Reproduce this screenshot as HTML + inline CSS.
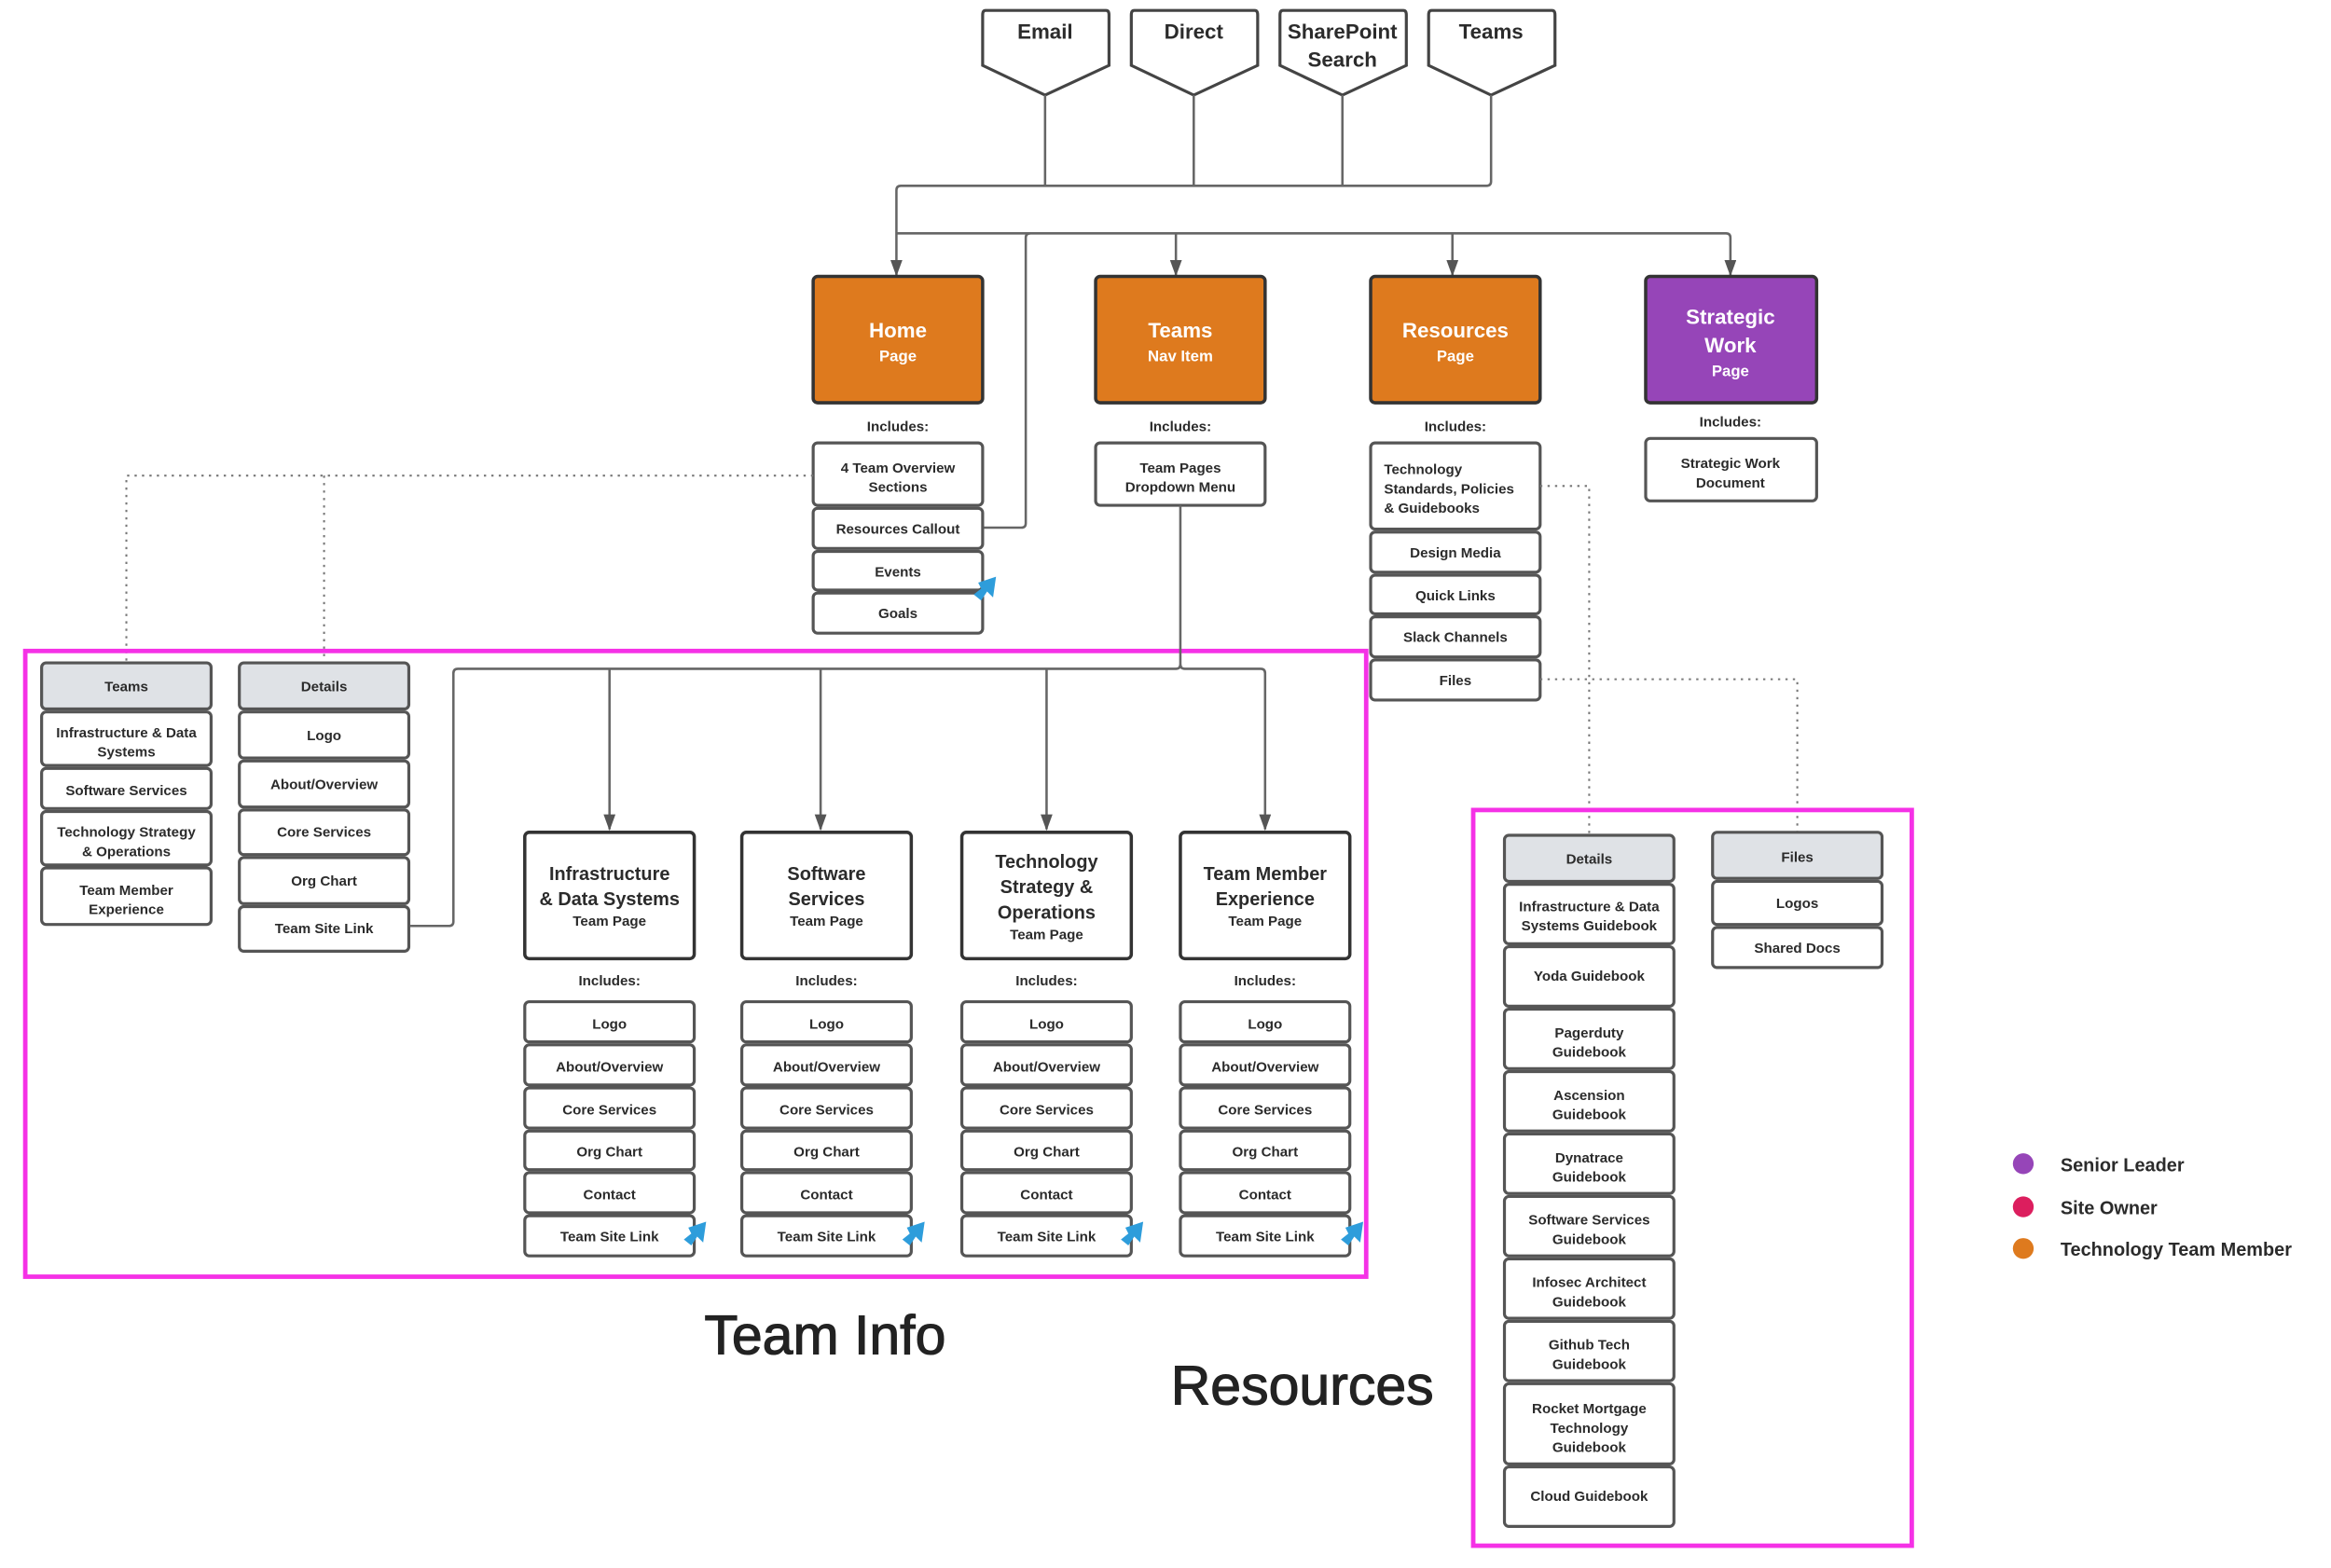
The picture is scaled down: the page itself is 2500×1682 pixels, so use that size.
<!DOCTYPE html>
<html><head><meta charset="utf-8"><style>
html,body{margin:0;padding:0;background:#fff}
svg{display:block}
text{font-family:"Liberation Sans",sans-serif;font-weight:bold;fill:#2b2b2b;text-anchor:middle}
.b{fill:#fff;stroke:#555;stroke-width:2}
.h{fill:#dfe2e6;stroke:#555;stroke-width:2}
.s{font-size:9.5px}
.l{fill:none;stroke:#666;stroke-width:1.6}
.d{fill:none;stroke:#777;stroke-width:1.3;stroke-dasharray:1.5 3.5}
.big{font-weight:normal;stroke:#222;stroke-width:0.7;fill:#222}
</style></head><body>
<svg width="2500" height="1682" viewBox="0 0 1568 1055" preserveAspectRatio="none" xmlns="http://www.w3.org/2000/svg">
<defs><marker id="a" markerWidth="11" markerHeight="9" refX="10" refY="4" orient="auto" markerUnits="userSpaceOnUse"><path d="M0,0 L11,4 L0,8 Z" fill="#555"/></marker>
<g id="bl"><path d="M0,0 L12,-4 L10,10 L6,6 L2,12 L-3,8 L2,4 Z" fill="#2e9ddb"/></g></defs>

<g fill="#fff" stroke="#444" stroke-width="2">
<path d="M663,7 H744 Q746,7 746,10 V44 L703,64 L661,44 V10 Q661,7 663,7Z"/>
<path d="M763,7 H844 Q846,7 846,10 V44 L803,64 L761,44 V10 Q761,7 763,7Z"/>
<path d="M863,7 H944 Q946,7 946,10 V44 L903,64 L861,44 V10 Q861,7 863,7Z"/>
<path d="M963,7 H1044 Q1046,7 1046,10 V44 L1003,64 L961,44 V10 Q961,7 963,7Z"/>
</g>
<text x="703" y="26" font-size="14">Email</text>
<text x="803" y="26" font-size="14">Direct</text>
<text x="903" y="26" font-size="14">SharePoint</text>
<text x="903" y="45" font-size="14">Search</text>
<text x="1003" y="26" font-size="14">Teams</text>

<path class="l" d="M703,64 V125 M803,64 V125 M903,64 V125 M1003,64 V122 Q1003,125 1000,125 H606 Q603,125 603,128 V185" marker-end="url(#a)"/>
<path class="l" d="M603,157 H1161 Q1164,157 1164,160 V185" marker-end="url(#a)"/>
<path class="l" d="M791,157 V185" marker-end="url(#a)"/>
<path class="l" d="M977,157 V185" marker-end="url(#a)"/>
<path class="l" d="M693,157 Q690,157 690,160 V352 Q690,355 687,355 H661"/>

<g stroke="#333" stroke-width="2.2">
<rect x="547" y="186" width="114" height="85" rx="3" fill="#de7a1e"/>
<rect x="737" y="186" width="114" height="85" rx="3" fill="#de7a1e"/>
<rect x="922" y="186" width="114" height="85" rx="3" fill="#de7a1e"/>
<rect x="1107" y="186" width="115" height="85" rx="3" fill="#9645b8"/>
</g>
<text x="604" y="227" font-size="14" style="fill:#fff">Home</text>
<text x="604" y="243" font-size="10.5" style="fill:#fff">Page</text>
<text x="794" y="227" font-size="14" style="fill:#fff">Teams</text>
<text x="794" y="243" font-size="10.5" style="fill:#fff">Nav Item</text>
<text x="979" y="227" font-size="14" style="fill:#fff">Resources</text>
<text x="979" y="243" font-size="10.5" style="fill:#fff">Page</text>
<text x="1164" y="218" font-size="14" style="fill:#fff">Strategic</text>
<text x="1164" y="237" font-size="14" style="fill:#fff">Work</text>
<text x="1164" y="253" font-size="10.5" style="fill:#fff">Page</text>
<text x="604" y="290" class="s">Includes:</text>
<text x="794" y="290" class="s">Includes:</text>
<text x="979" y="290" class="s">Includes:</text>
<text x="1164" y="287" class="s">Includes:</text>

<rect class="b" x="547" y="298" width="114" height="42" rx="3"/>
<rect class="b" x="547" y="342" width="114" height="27" rx="3"/>
<rect class="b" x="547" y="371" width="114" height="26" rx="3"/>
<rect class="b" x="547" y="399" width="114" height="27" rx="3"/>
<text class="s" x="604" y="318">4 Team Overview</text>
<text class="s" x="604" y="331">Sections</text>
<text class="s" x="604" y="359">Resources Callout</text>
<text class="s" x="604" y="388">Events</text>
<text class="s" x="604" y="416">Goals</text>
<use href="#bl" x="658" y="392"/>

<rect class="b" x="737" y="298" width="114" height="42" rx="3"/>
<text class="s" x="794" y="318">Team Pages</text>
<text class="s" x="794" y="331">Dropdown Menu</text>

<rect class="b" x="922" y="298" width="114" height="58" rx="3"/>
<rect class="b" x="922" y="358" width="114" height="27" rx="3"/>
<rect class="b" x="922" y="387" width="114" height="26" rx="3"/>
<rect class="b" x="922" y="415" width="114" height="27" rx="3"/>
<rect class="b" x="922" y="444" width="114" height="27" rx="3"/>
<text class="s" x="931" y="319" style="text-anchor:start">Technology</text>
<text class="s" x="931" y="332" style="text-anchor:start">Standards, Policies</text>
<text class="s" x="931" y="345" style="text-anchor:start">&amp; Guidebooks</text>
<text class="s" x="979" y="375">Design Media</text>
<text class="s" x="979" y="404">Quick Links</text>
<text class="s" x="979" y="432">Slack Channels</text>
<text class="s" x="979" y="461">Files</text>

<rect class="b" x="1107" y="295" width="115" height="42" rx="3"/>
<text class="s" x="1164" y="315">Strategic Work</text>
<text class="s" x="1164" y="328">Document</text>

<path class="d" d="M547,320 H85 V445 M218,320 V445"/>
<path class="d" d="M1036,327 H1069 V562"/>
<path class="d" d="M1036,457 H1209 V560"/>

<rect x="17" y="438" width="902" height="421" fill="none" stroke="#f531e6" stroke-width="3"/>
<rect x="991" y="545" width="295" height="495" fill="none" stroke="#f531e6" stroke-width="3"/>

<path class="l" d="M794,340 V447 Q794,450 791,450 H308 Q305,450 305,453 V620 Q305,623 302,623 H276"/>
<path class="l" d="M794,447 Q794,450 797,450 H848 Q851,450 851,453 V558" marker-end="url(#a)"/>
<path class="l" d="M410,450 V558" marker-end="url(#a)"/>
<path class="l" d="M552,450 V558" marker-end="url(#a)"/>
<path class="l" d="M704,450 V558" marker-end="url(#a)"/>

<rect class="h" x="28" y="446" width="114" height="31" rx="3"/>
<rect class="b" x="28" y="479" width="114" height="36" rx="3"/>
<rect class="b" x="28" y="517" width="114" height="27" rx="3"/>
<rect class="b" x="28" y="546" width="114" height="36" rx="3"/>
<rect class="b" x="28" y="584" width="114" height="38" rx="3"/>
<text class="s" x="85" y="465">Teams</text>
<text class="s" x="85" y="496">Infrastructure &amp; Data</text>
<text class="s" x="85" y="509">Systems</text>
<text class="s" x="85" y="535">Software Services</text>
<text class="s" x="85" y="563">Technology Strategy</text>
<text class="s" x="85" y="576">&amp; Operations</text>
<text class="s" x="85" y="602">Team Member</text>
<text class="s" x="85" y="615">Experience</text>

<rect class="h" x="161" y="446" width="114" height="31" rx="3"/>
<rect class="b" x="161" y="479" width="114" height="31" rx="3"/>
<rect class="b" x="161" y="512" width="114" height="31" rx="3"/>
<rect class="b" x="161" y="545" width="114" height="30" rx="3"/>
<rect class="b" x="161" y="577" width="114" height="31" rx="3"/>
<rect class="b" x="161" y="610" width="114" height="30" rx="3"/>
<text class="s" x="218" y="465">Details</text>
<text class="s" x="218" y="498">Logo</text>
<text class="s" x="218" y="531">About/Overview</text>
<text class="s" x="218" y="563">Core Services</text>
<text class="s" x="218" y="596">Org Chart</text>
<text class="s" x="218" y="628">Team Site Link</text>

<g stroke="#333" stroke-width="2.2" fill="#fff">
<rect x="353" y="560" width="114" height="85" rx="3"/>
<rect x="499" y="560" width="114" height="85" rx="3"/>
<rect x="647" y="560" width="114" height="85" rx="3"/>
<rect x="794" y="560" width="114" height="85" rx="3"/>
</g>
<text x="410" y="592" font-size="12.5">Infrastructure</text>
<text x="410" y="609" font-size="12.5">&amp; Data Systems</text>
<text class="s" x="410" y="623">Team Page</text>
<text x="556" y="592" font-size="12.5">Software</text>
<text x="556" y="609" font-size="12.5">Services</text>
<text class="s" x="556" y="623">Team Page</text>
<text x="704" y="584" font-size="12.5">Technology</text>
<text x="704" y="601" font-size="12.5">Strategy &amp;</text>
<text x="704" y="618" font-size="12.5">Operations</text>
<text class="s" x="704" y="632">Team Page</text>
<text x="851" y="592" font-size="12.5">Team Member</text>
<text x="851" y="609" font-size="12.5">Experience</text>
<text class="s" x="851" y="623">Team Page</text>

<text class="s" x="410" y="663">Includes:</text><text class="s" x="556" y="663">Includes:</text><text class="s" x="704" y="663">Includes:</text><text class="s" x="851" y="663">Includes:</text>

<rect class="b" x="353" y="674" width="114" height="27" rx="3"/><rect class="b" x="353" y="703" width="114" height="27" rx="3"/><rect class="b" x="353" y="732" width="114" height="27" rx="3"/><rect class="b" x="353" y="761" width="114" height="26" rx="3"/><rect class="b" x="353" y="789" width="114" height="27" rx="3"/><rect class="b" x="353" y="818" width="114" height="27" rx="3"/>
<text class="s" x="410" y="692">Logo</text><text class="s" x="410" y="721">About/Overview</text><text class="s" x="410" y="750">Core Services</text><text class="s" x="410" y="778">Org Chart</text><text class="s" x="410" y="807">Contact</text><text class="s" x="410" y="835">Team Site Link</text>
<use href="#bl" x="463" y="826"/>
<rect class="b" x="499" y="674" width="114" height="27" rx="3"/><rect class="b" x="499" y="703" width="114" height="27" rx="3"/><rect class="b" x="499" y="732" width="114" height="27" rx="3"/><rect class="b" x="499" y="761" width="114" height="26" rx="3"/><rect class="b" x="499" y="789" width="114" height="27" rx="3"/><rect class="b" x="499" y="818" width="114" height="27" rx="3"/>
<text class="s" x="556" y="692">Logo</text><text class="s" x="556" y="721">About/Overview</text><text class="s" x="556" y="750">Core Services</text><text class="s" x="556" y="778">Org Chart</text><text class="s" x="556" y="807">Contact</text><text class="s" x="556" y="835">Team Site Link</text>
<use href="#bl" x="610" y="826"/>
<rect class="b" x="647" y="674" width="114" height="27" rx="3"/><rect class="b" x="647" y="703" width="114" height="27" rx="3"/><rect class="b" x="647" y="732" width="114" height="27" rx="3"/><rect class="b" x="647" y="761" width="114" height="26" rx="3"/><rect class="b" x="647" y="789" width="114" height="27" rx="3"/><rect class="b" x="647" y="818" width="114" height="27" rx="3"/>
<text class="s" x="704" y="692">Logo</text><text class="s" x="704" y="721">About/Overview</text><text class="s" x="704" y="750">Core Services</text><text class="s" x="704" y="778">Org Chart</text><text class="s" x="704" y="807">Contact</text><text class="s" x="704" y="835">Team Site Link</text>
<use href="#bl" x="757" y="826"/>
<rect class="b" x="794" y="674" width="114" height="27" rx="3"/><rect class="b" x="794" y="703" width="114" height="27" rx="3"/><rect class="b" x="794" y="732" width="114" height="27" rx="3"/><rect class="b" x="794" y="761" width="114" height="26" rx="3"/><rect class="b" x="794" y="789" width="114" height="27" rx="3"/><rect class="b" x="794" y="818" width="114" height="27" rx="3"/>
<text class="s" x="851" y="692">Logo</text><text class="s" x="851" y="721">About/Overview</text><text class="s" x="851" y="750">Core Services</text><text class="s" x="851" y="778">Org Chart</text><text class="s" x="851" y="807">Contact</text><text class="s" x="851" y="835">Team Site Link</text>
<use href="#bl" x="905" y="826"/>

<text class="big" x="555" y="911" font-size="37">Team Info</text>
<text class="big" x="876" y="945" font-size="37">Resources</text>

<rect class="h" x="1012" y="562" width="114" height="31" rx="3"/>
<rect class="b" x="1012" y="595" width="114" height="40" rx="3"/>
<rect class="b" x="1012" y="637" width="114" height="40" rx="3"/>
<rect class="b" x="1012" y="679" width="114" height="40" rx="3"/>
<rect class="b" x="1012" y="721" width="114" height="40" rx="3"/>
<rect class="b" x="1012" y="763" width="114" height="40" rx="3"/>
<rect class="b" x="1012" y="805" width="114" height="40" rx="3"/>
<rect class="b" x="1012" y="847" width="114" height="40" rx="3"/>
<rect class="b" x="1012" y="889" width="114" height="40" rx="3"/>
<rect class="b" x="1012" y="931" width="114" height="54" rx="3"/>
<rect class="b" x="1012" y="987" width="114" height="40" rx="3"/>
<text class="s" x="1069" y="581">Details</text>
<text class="s" x="1069" y="613">Infrastructure &amp; Data</text><text class="s" x="1069" y="626">Systems Guidebook</text>
<text class="s" x="1069" y="660">Yoda Guidebook</text>
<text class="s" x="1069" y="698">Pagerduty</text><text class="s" x="1069" y="711">Guidebook</text>
<text class="s" x="1069" y="740">Ascension</text><text class="s" x="1069" y="753">Guidebook</text>
<text class="s" x="1069" y="782">Dynatrace</text><text class="s" x="1069" y="795">Guidebook</text>
<text class="s" x="1069" y="824">Software Services</text><text class="s" x="1069" y="837">Guidebook</text>
<text class="s" x="1069" y="866">Infosec Architect</text><text class="s" x="1069" y="879">Guidebook</text>
<text class="s" x="1069" y="908">Github Tech</text><text class="s" x="1069" y="921">Guidebook</text>
<text class="s" x="1069" y="951">Rocket Mortgage</text><text class="s" x="1069" y="964">Technology</text><text class="s" x="1069" y="977">Guidebook</text>
<text class="s" x="1069" y="1010">Cloud Guidebook</text>

<rect class="h" x="1152" y="560" width="114" height="31" rx="3"/>
<rect class="b" x="1152" y="593" width="114" height="29" rx="3"/>
<rect class="b" x="1152" y="624" width="114" height="27" rx="3"/>
<text class="s" x="1209" y="580">Files</text>
<text class="s" x="1209" y="611">Logos</text>
<text class="s" x="1209" y="641">Shared Docs</text>

<circle cx="1361" cy="783" r="7" fill="#9645b8"/>
<circle cx="1361" cy="812" r="7" fill="#dc1e5e"/>
<circle cx="1361" cy="840" r="7" fill="#de7a1e"/>
<text x="1386" y="788" font-size="12.5" style="text-anchor:start">Senior Leader</text>
<text x="1386" y="817" font-size="12.5" style="text-anchor:start">Site Owner</text>
<text x="1386" y="845" font-size="12.5" style="text-anchor:start">Technology Team Member</text>
</svg>
</body></html>
